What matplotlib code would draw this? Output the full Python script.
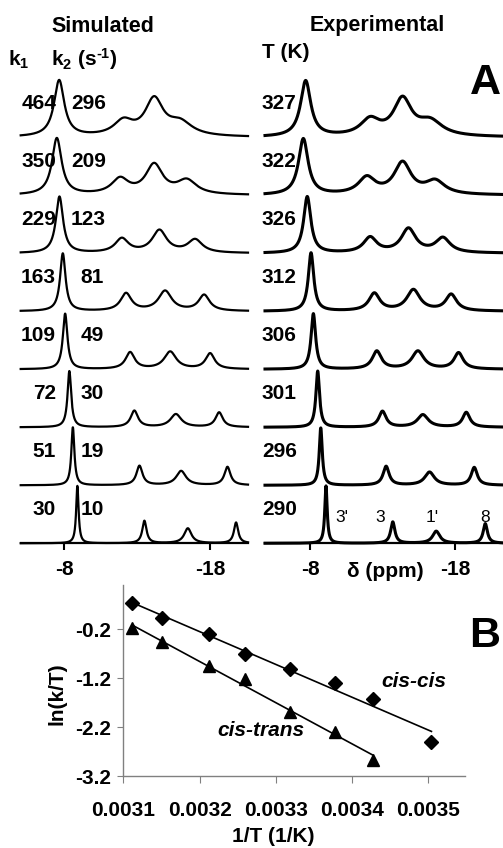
import matplotlib
matplotlib.use("Agg")
import matplotlib.pyplot as plt
import numpy as np

plt.rcParams['font.family'] = 'Liberation Sans'
plt.rcParams['mathtext.fontset'] = 'custom'
plt.rcParams['mathtext.rm'] = 'Liberation Sans:bold'
plt.rcParams['mathtext.bf'] = 'Liberation Sans:bold'
plt.rcParams['mathtext.it'] = 'Liberation Sans:bold:italic'
plt.rcParams['mathtext.default'] = 'bf'

FS = 15

# ---- panel A: rate constants / temperatures (top trace first)
k1_vals = ['464', '350', '229', '163', '109', '72', '51', '30']
k2_vals = ['296', '209', '123', '81', '49', '30', '19', '10']
temps = ['327', '322', '326', '312', '306', '301', '296', '290']
peak_names = ["3'", "3", "1'", "8"]

# peak positions (ppm), apparent heights (trace spacing = 1) and FWHM (ppm)
sim_pos = [
    [-7.64, -12.05, -14.16, -15.94],
    [-7.48, -11.82, -14.16, -16.40],
    [-7.66, -11.94, -14.52, -16.97],
    [-7.89, -12.23, -14.91, -17.59],
    [-8.05, -12.51, -15.26, -18.00],
    [-8.34, -12.80, -15.65, -18.62],
    [-8.58, -13.15, -16.01, -19.19],
    [-8.89, -13.49, -16.47, -19.78],
]
sim_height = [
    [0.99, 0.34, 0.71, 0.33],
    [0.99, 0.32, 0.56, 0.29],
    [0.98, 0.27, 0.41, 0.25],
    [1.00, 0.32, 0.36, 0.29],
    [0.96, 0.30, 0.31, 0.28],
    [0.97, 0.29, 0.23, 0.26],
    [1.00, 0.34, 0.25, 0.32],
    [0.99, 0.39, 0.26, 0.36],
]
exp_pos = [
    [-7.70, -12.14, -14.37, -16.28],
    [-7.54, -11.91, -14.37, -16.62],
    [-7.81, -12.14, -14.78, -17.15],
    [-8.07, -12.43, -15.12, -17.72],
    [-8.23, -12.60, -15.43, -18.23],
    [-8.53, -12.99, -15.77, -18.76],
    [-8.74, -13.24, -16.23, -19.31],
    [-9.10, -13.70, -16.69, -20.07],
]
exp_height = [
    [0.98, 0.36, 0.71, 0.34],
    [0.98, 0.34, 0.59, 0.28],
    [0.98, 0.29, 0.44, 0.28],
    [1.01, 0.32, 0.38, 0.30],
    [0.96, 0.32, 0.32, 0.29],
    [0.97, 0.28, 0.22, 0.26],
    [0.99, 0.33, 0.23, 0.31],
    [0.99, 0.37, 0.21, 0.34],
]
fwhm = [
    [0.85, 1.6, 1.5, 2.0],
    [0.80, 1.4, 1.4, 1.6],
    [0.60, 1.1, 1.2, 1.2],
    [0.45, 0.9, 1.1, 0.9],
    [0.38, 0.75, 1.0, 0.75],
    [0.30, 0.6, 0.9, 0.6],
    [0.25, 0.5, 0.8, 0.5],
    [0.20, 0.35, 0.6, 0.35],
]

# ---- panel B: Eyring-type plot
inv_T_cc = [0.003112, 0.003151, 0.003212, 0.003259, 0.003318, 0.003378, 0.003427, 0.003504]
ln_cc = [0.335, 0.026, -0.297, -0.709, -1.017, -1.291, -1.614, -2.50]
inv_T_ct = [0.003112, 0.003151, 0.003212, 0.003259, 0.003318, 0.003378, 0.003427]
ln_ct = [-0.179, -0.455, -0.956, -1.209, -1.882, -2.294, -2.870]

W, H = 503, 848
fig = plt.figure(figsize=(W / 100, H / 100), dpi=100)


def px_axes(x0, y0, x1, y1):
    return fig.add_axes([x0 / W, 1 - y1 / H, (x1 - x0) / W, (y1 - y0) / H])


def ftext(x, y, s, **kw):
    fig.text(x / W, 1 - y / H, s, **kw)


def lorentz(x, x0, w):
    return 1.0 / (1.0 + ((x - x0) / (w / 2)) ** 2)


def spectrum(x, pos, heights, widths):
    # amplitudes chosen so that the summed curve hits the read peak heights
    m = np.array([[lorentz(p, q, w) for q, w in zip(pos, widths)] for p in pos])
    amps = np.linalg.solve(m, heights)
    return sum(a * lorentz(x, q, w) for a, q, w in zip(amps, pos, widths))


def spectra_panel(ax, pos, heights, lw, xlim):
    x = np.linspace(xlim[0], xlim[1], 3000)
    n = len(pos)
    for i in range(n):
        off = n - 1 - i
        ax.plot(x, off + spectrum(x, pos[i], heights[i], fwhm[i]),
                color='black', lw=lw, clip_on=False, solid_joinstyle='round')
    ax.set_xlim(*xlim)
    ax.set_ylim(0, 8.16)
    for s in ['top', 'right', 'left']:
        ax.spines[s].set_visible(False)
    ax.spines['bottom'].set_linewidth(1.6)
    ax.set_yticks([])
    ax.set_xticks([-8, -18])
    ax.set_xticklabels(['-8', '-18'], fontsize=FS, fontweight='bold')
    ax.tick_params(axis='x', direction='out', length=5, width=1.5, pad=7)
    ax.patch.set_visible(False)


ax_sim = px_axes(20.7, 70, 248, 543.3)
spectra_panel(ax_sim, sim_pos, sim_height, 1.6, (-5.0, -20.6))
ax_exp = px_axes(265, 70, 501.7, 543.3)
spectra_panel(ax_exp, exp_pos, exp_height, 2.2, (-4.9, -21.2))

n = len(k1_vals)
for i in range(n):
    y = n - 1 - i + 0.58
    ax_sim.text(-7.43, y, k1_vals[i], ha='right', va='center', fontsize=FS, fontweight='bold')
    k2x = -8.46 if len(k2_vals[i]) == 3 else -9.11
    ax_sim.text(k2x, y, k2_vals[i], ha='left', va='center', fontsize=FS, fontweight='bold')
    ax_exp.text(-4.68, y, temps[i], ha='left', va='center', fontsize=FS, fontweight='bold')

for name, xp in zip(peak_names, [-10.19, -12.83, -16.39, -20.07]):
    ax_exp.text(xp, 0.45, name, ha='center', va='center', fontsize=12.5)

ax_exp.text(-13.2, -0.48, 'δ (ppm)', ha='center', va='center', fontsize=FS, fontweight='bold')

ftext(103, 31.5, 'Simulated', ha='center', va='baseline', fontsize=15.5, fontweight='bold')
ftext(377, 31.5, 'Experimental', ha='center', va='baseline', fontsize=15.5, fontweight='bold')
ftext(8, 65.5, r'k$_1$', ha='left', va='baseline', fontsize=FS, fontweight='bold')
ftext(51, 65.5, 'k$_2$ (s$^{\u20101}$)', ha='left', va='baseline', fontsize=FS, fontweight='bold')
ftext(262, 58, 'T (K)', ha='left', va='baseline', fontsize=FS, fontweight='bold')
ftext(485, 83, 'A', ha='center', va='center', fontsize=31, fontweight='bold')
ftext(485, 636, 'B', ha='center', va='center', fontsize=31, fontweight='bold')

# ---- panel B
axb = px_axes(123.3, 585, 465, 776)
for xs, ys, mk, ms in [(inv_T_cc, ln_cc, 'D', 7), (inv_T_ct, ln_ct, '^', 8)]:
    xs = np.array(xs)
    ys = np.array(ys)
    slope, icpt = np.polyfit(xs, ys, 1)
    xl = np.array([xs.min(), xs.max()])
    axb.plot(xl, slope * xl + icpt, color='black', lw=1.2)
    axb.plot(xs, ys, linestyle='none', marker=mk, ms=ms, color='black', clip_on=False)

axb.set_xlim(0.0031, 0.003548)
axb.set_ylim(-3.2, 0.71)
axb.set_xticks([0.0031, 0.0032, 0.0033, 0.0034, 0.0035])
axb.set_xticklabels(['0.0031', '0.0032', '0.0033', '0.0034', '0.0035'], fontsize=FS, fontweight='bold')
axb.set_yticks([-3.2, -2.2, -1.2, -0.2])
axb.set_yticklabels(['-3.2', '-2.2', '-1.2', '-0.2'], fontsize=FS, fontweight='bold')
for s in ['top', 'right']:
    axb.spines[s].set_visible(False)
for s in ['left', 'bottom']:
    axb.spines[s].set_color('#808080')
    axb.spines[s].set_linewidth(1.0)
axb.tick_params(axis='x', direction='out', length=5, color='#808080', pad=13)
axb.tick_params(axis='y', direction='out', length=4, color='#808080', pad=5)
axb.patch.set_visible(False)

axb.text(0.003481, -1.26, 'cis-cis', ha='center', va='center', fontsize=FS,
         fontweight='bold', style='italic')
axb.text(0.003281, -2.27, 'cis-trans', ha='center', va='center', fontsize=FS,
         fontweight='bold', style='italic')
ftext(57, 694, 'ln(k/T)', ha='center', va='center', rotation=90, fontsize=FS, fontweight='bold')
ftext(273, 837, '1/T (1/K)', ha='center', va='center', fontsize=FS, fontweight='bold')

fig.savefig('out.png', dpi=100)
